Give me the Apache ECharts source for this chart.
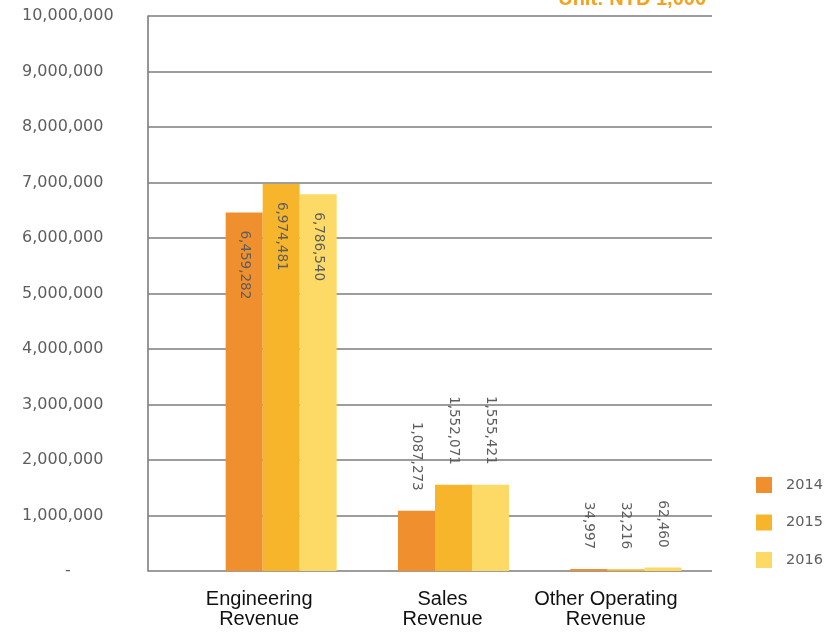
<!DOCTYPE html>
<html>
<head>
<meta charset="utf-8">
<script src="https://cdn.jsdelivr.net/npm/echarts@6/dist/echarts.min.js"></script>
<style>
  html, body { margin: 0; padding: 0; background: #ffffff; }
  #chart { width: 839px; height: 637px; }
</style>
</head>
<body>
<div id="chart"></div>
<script>
// Operating revenue by type, three fiscal years (NTD thousands)
var categories = ['Engineering\nRevenue', 'Sales\nRevenue', 'Other Operating\nRevenue'];
var years = ['2014', '2015', '2016'];
var rev2014 = [6459282, 1087273, 34997];
var rev2015 = [6974481, 1552071, 32216];
var rev2016 = [6786540, 1555421, 62460];
var yTicks = { min: 0, max: 10000000, interval: 1000000 };

var colors = ['#EF8F2E', '#F7B52C', '#FDD966'];
var gridColor = '#7d7d7d';
var labelGray = '#5e5e5e';

// horizontal nudges for the wrapped category labels
var catShift = [22, 11, 20];

function fmt(v) {
  return String(v).replace(/\B(?=(\d{3})+(?!\d))/g, ',');
}

function barSeries(name, values, color) {
  return {
    name: name,
    type: 'bar',
    xAxisIndex: 1,
    yAxisIndex: 1,
    barWidth: 37,
    barGap: '0%',
    itemStyle: { color: color },
    data: values.map(function (v, i) {
      var inside = i === 0;
      return {
        value: v,
        label: {
          show: true,
          position: inside ? 'insideTop' : 'top',
          distance: inside ? 18 : 20,
          rotate: -90,
          align: inside ? 'left' : 'right',
          verticalAlign: 'middle',
          fontFamily: 'DejaVu Sans',
          fontSize: 13.5,
          color: labelGray,
          formatter: function (p) { return fmt(p.value); }
        }
      };
    })
  };
}

var rich = {};
catShift.forEach(function (s, i) {
  rich['c' + i] = {
    fontFamily: 'Liberation Sans',
    fontSize: 20,
    lineHeight: 20,
    color: '#111111',
    align: 'center',
    padding: [0, s * 2, 0, 0]
  };
});

var option = {
  animation: false,
  backgroundColor: '#ffffff',
  color: colors,
  grid: [
    { left: 148, right: 127, top: 16, bottom: 66 },
    { left: 195, right: 127, top: 16, bottom: 66 }
  ],
  xAxis: [
    {
      gridIndex: 0, type: 'category', data: categories,
      show: false
    },
    {
      gridIndex: 1, type: 'category', data: categories,
      axisLine: { show: false },
      axisTick: { show: false },
      axisLabel: {
        margin: 18,
        interval: 0,
        formatter: function (v, i) { return '{c' + i + '|' + v + '}'; },
        rich: rich
      }
    }
  ],
  yAxis: [
    {
      gridIndex: 0, type: 'value',
      min: yTicks.min, max: yTicks.max, interval: yTicks.interval,
      axisLine: { show: true, lineStyle: { color: gridColor, width: 1.6 } },
      axisTick: { show: false },
      splitLine: { show: true, lineStyle: { color: gridColor, width: 1.6 } },
      axisLabel: {
        align: 'left',
        margin: 126,
        fontFamily: 'DejaVu Sans',
        fontSize: 16,
        color: labelGray,
        formatter: function (v) { return v === 0 ? '{z|-}' : fmt(v); },
        rich: { z: { fontFamily: 'DejaVu Sans', fontSize: 16, color: labelGray, padding: [0, 0, 0, 43] } }
      }
    },
    {
      gridIndex: 1, type: 'value',
      min: yTicks.min, max: yTicks.max, interval: yTicks.interval,
      show: false,
      splitLine: { show: false }
    }
  ],
  legend: {
    orient: 'vertical',
    left: 751,
    top: 472,
    itemWidth: 16,
    itemHeight: 16,
    itemGap: 21.5,
    icon: 'rect',
    textStyle: { fontFamily: 'DejaVu Sans', fontSize: 14.5, color: labelGray, padding: [0, 0, 0, 9] },
    data: years
  },
  graphic: [
    {
      type: 'text',
      right: 133,
      top: -11,
      style: {
        text: 'Unit: NTD 1,000',
        font: 'bold 20px "Liberation Sans"',
        fill: '#F7A11A'
      }
    }
  ],
  series: [
    barSeries(years[0], rev2014, colors[0]),
    barSeries(years[1], rev2015, colors[1]),
    barSeries(years[2], rev2016, colors[2])
  ]
};

var chart = echarts.init(document.getElementById('chart'), null, { renderer: 'canvas' });
chart.setOption(option);
</script>
</body>
</html>
